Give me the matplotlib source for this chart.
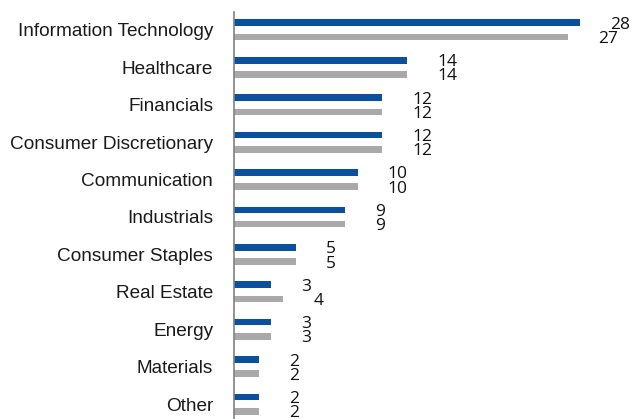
import matplotlib

matplotlib.use("Agg")
import matplotlib.pyplot as plt
import numpy as np

categories = [
    "Information Technology", "Healthcare", "Financials", "Consumer Discretionary",
    "Communication", "Industrials", "Consumer Staples", "Real Estate",
    "Energy", "Materials", "Other",
]
fund = [28, 14, 12, 12, 10, 9, 5, 3, 3, 2, 2]
benchmark = [27, 14, 12, 12, 10, 9, 5, 4, 3, 2, 2]

BLUE = "#0b509e"
GRAY = "#a9a9a9"

fig = plt.figure(figsize=(6.44, 4.19), dpi=100)
ax = fig.add_axes([234 / 644, 0, 1 - 234 / 644, 1 - 12 / 419])

y = np.arange(len(categories))
off = 0.19
h = 0.18
ax.barh(y - off, fund, height=h, color=BLUE)
ax.barh(y + off, benchmark, height=h, color=GRAY)

# value labels sit ~30 px right of each bar end
for yi, v in zip(y, fund):
    ax.annotate(f"{v}", (v, yi - off), xytext=(30, -2), textcoords="offset pixels",
                ha="left", va="center", fontsize=12.5, family="Open Sans", color="#111111")
for yi, v in zip(y, benchmark):
    ax.annotate(f"{v}", (v, yi + off), xytext=(30, -2), textcoords="offset pixels",
                ha="left", va="center", fontsize=12.5, family="Open Sans", color="#111111")

ax.set_xlim(0, 410 / 12.36)
ax.set_ylim(10.40, -0.48)
ax.set_yticks(y)
ax.set_yticklabels(categories, fontsize=13.7, family="Liberation Sans", color="#1a1a1a")
ax.tick_params(axis="y", length=0, pad=15)
ax.set_xticks([])
for s in ["top", "right", "bottom"]:
    ax.spines[s].set_visible(False)
ax.spines["left"].set_color("#808080")
ax.spines["left"].set_linewidth(1.2)

fig.savefig("out.png", dpi=100)
